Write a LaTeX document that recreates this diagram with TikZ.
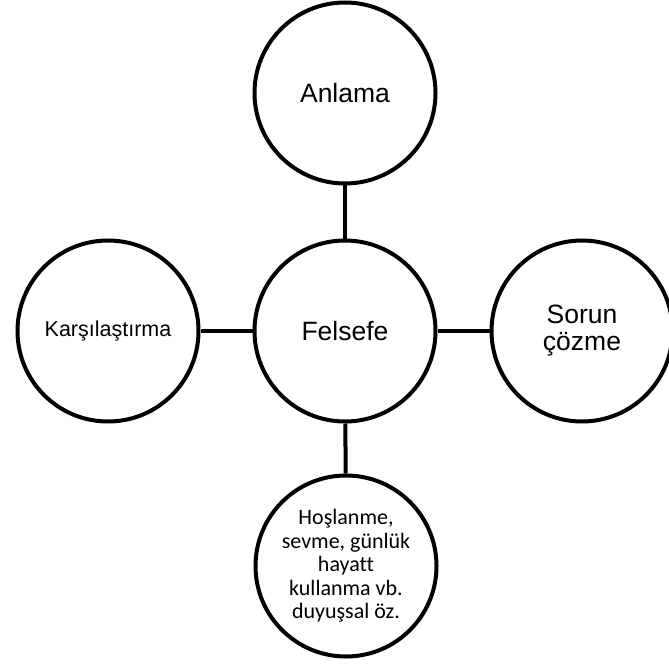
\documentclass[tikz,border=0pt]{standalone}
\usepackage{fontspec}
\setmainfont{Liberation Sans}
\newfontfamily\calibrifont[Ligatures=NoCommon]{Carlito}
\usepackage{tikz}

\begin{document}
\begin{tikzpicture}[x=1pt, y=-1pt,
    konu/.style={circle, draw=black, line width=4pt, fill=white,
        minimum size=181pt, inner sep=0pt, align=center,
        font=\fontsize{26.5}{27}\selectfont},
    bag/.style={line width=4pt, black}]
        % 页面
        \useasboundingbox (0,0) rectangle (668,668);

        % 圆
        \node[konu] (felsefe) at (345,331) {Felsefe};
        \node[konu] (anlama) at (345,93) {Anlama};
        \node[konu, font=\fontsize{21.5}{24}\selectfont] (karsilastirma) at (108,331) {Karşılaştırma};
        \node[konu] (sorun) at (582,331) {Sorun\\çözme};
        \node[konu, font=\calibrifont\fontsize{22}{23.4}\selectfont] (duyussal) at (346,566)
            {Hoşlanme,\\sevme, günlük\\hayatt\\kullanma vb.\\duyuşsal öz.};

        % 连线
        \draw[bag] (felsefe) -- (anlama);
        \draw[bag] (felsefe) -- (karsilastirma);
        \draw[bag] (felsefe) -- (sorun);
        \draw[bag] (felsefe) -- (duyussal);
    \end{tikzpicture}
\end{document}
